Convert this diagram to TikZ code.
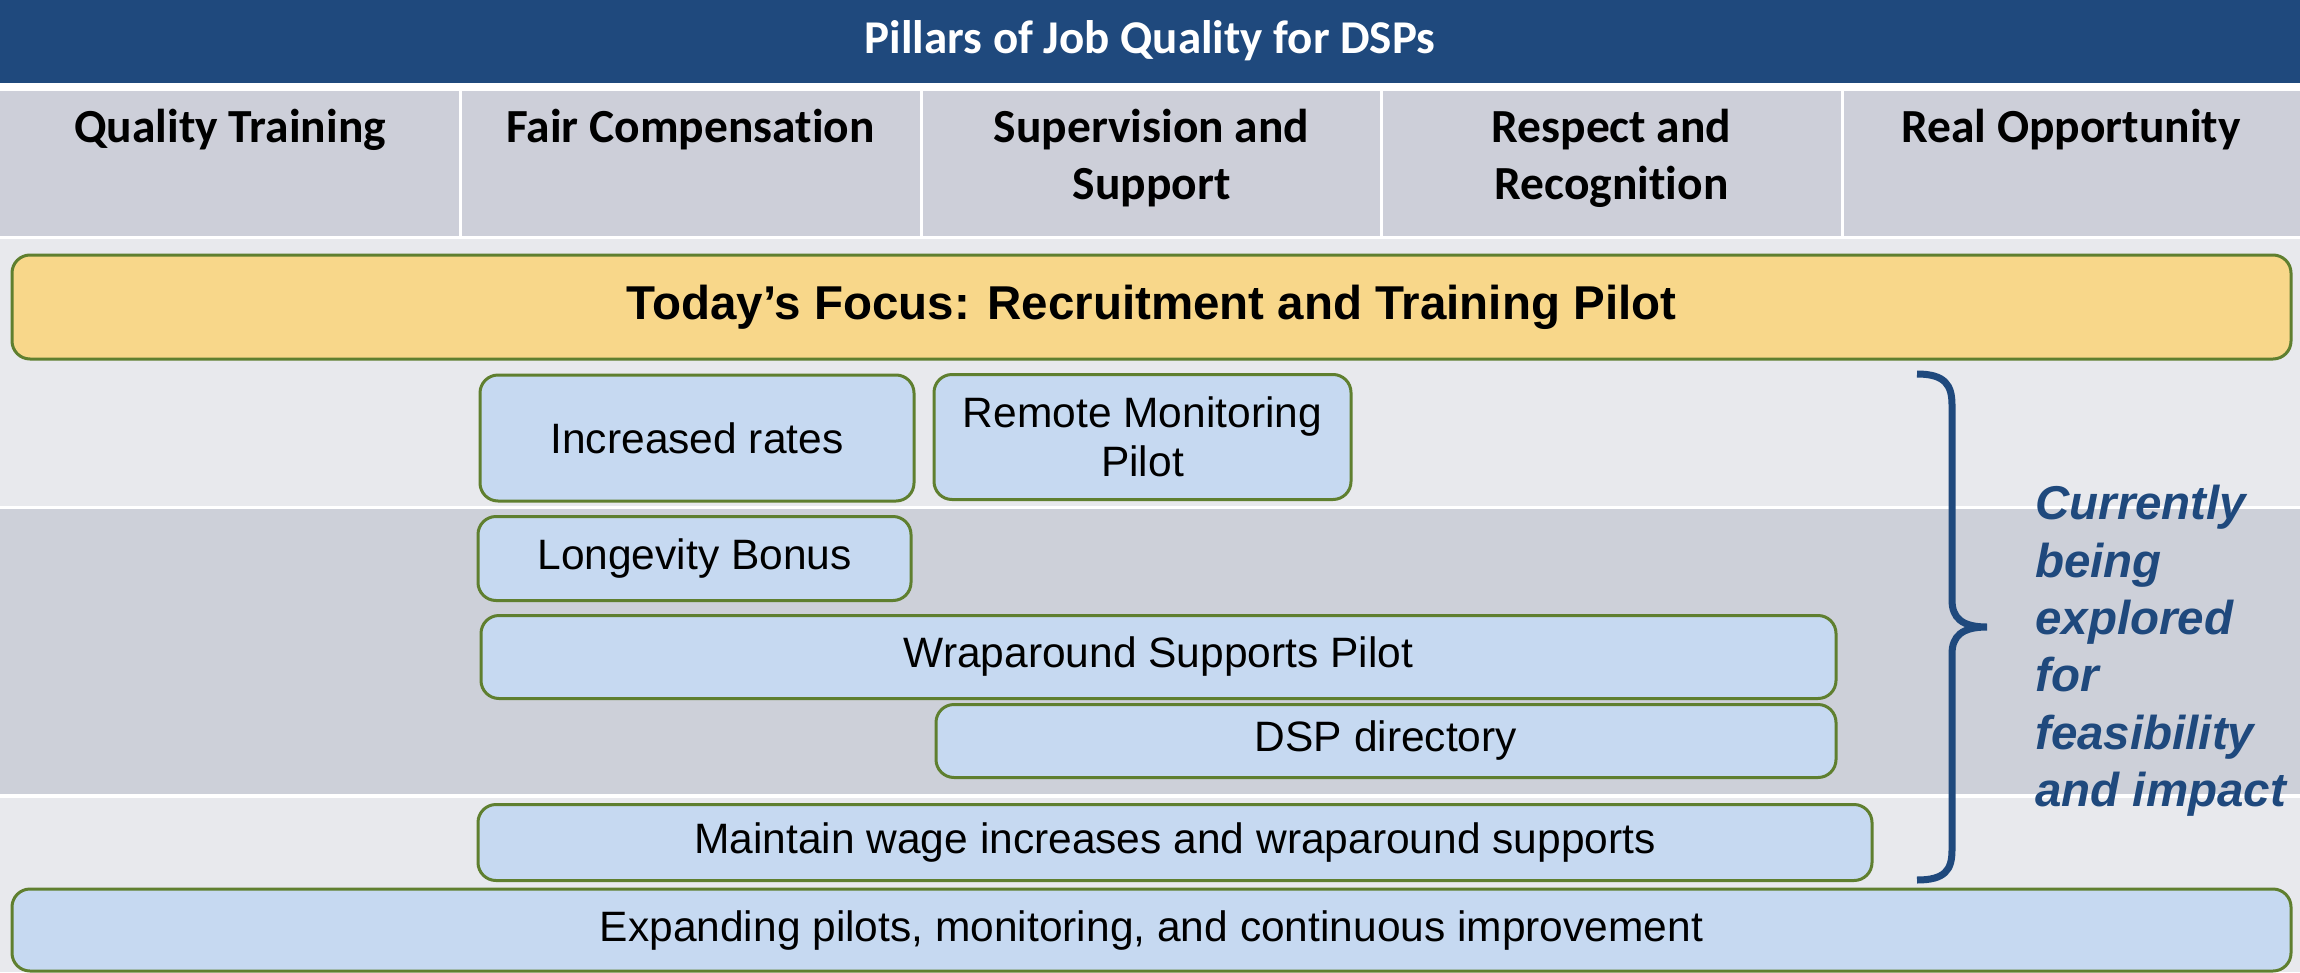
\documentclass[tikz,border=0pt]{standalone}
\usepackage{fontspec}
\setmainfont{Liberation Sans}
\newfontfamily\carlito[Ligatures=NoCommon]{Carlito}
\definecolor{hdrblue}{HTML}{1F497D}
\definecolor{colgray}{HTML}{CDCFD9}
\definecolor{bandlight}{HTML}{E8E9ED}
\definecolor{banddark}{HTML}{CDD0D9}
\definecolor{focusyellow}{HTML}{F8D78A}
\definecolor{boxblue}{HTML}{C6D9F1}
\definecolor{boxgreen}{HTML}{5F7F2F}
\begin{document}
\begin{tikzpicture}[x=1pt,y=-1pt,
  itembox/.style={draw=boxgreen, line width=3pt, fill=boxblue, rounded corners=18pt,
    inner sep=0pt, align=center, font=\fontsize{42.5}{49}\selectfont},
  colhead/.style={anchor=north, inner sep=0pt, align=center,
    font=\carlito\bfseries\fontsize{47.5}{57}\selectfont},
  bracestyle/.style={draw=hdrblue, line width=7pt}
]
\useasboundingbox (0,0) rectangle (2300,972);
% backgrounds
\fill[white] (0,0) rectangle (2300,972);
\fill[hdrblue] (0,0) rectangle (2300,83);
\fill[colgray] (0,91) rectangle (2300,236);
\foreach \xx in {460.5,921,1381.5,1842}{
  \fill[white] (\xx-1.5,91) rectangle (\xx+1.5,236);
}
\fill[bandlight] (0,239) rectangle (2300,506);
\fill[banddark] (0,509) rectangle (2300,794);
\fill[bandlight] (0,798) rectangle (2300,972);

% title
\node[text=white, inner sep=0pt, font=\carlito\bfseries\fontsize{47}{56}\selectfont] (title) at (1150,41) {Pillars of Job Quality for DSPs};

% column headers
\node[colhead] (c1) at (230,109) {Quality Training};
\node[colhead] (c2) at (690.5,109) {Fair Compensation};
\node[colhead] (c3) at (1151.5,109) {Supervision and\\Support};
\node[colhead] (c4) at (1611.5,109) {Respect and\\Recognition};
\node[colhead] (c5) at (2071,109) {Real Opportunity};

% focus
\node[draw=boxgreen, line width=3pt, fill=focusyellow, rounded corners=18pt, inner sep=0pt,
  minimum width=2279pt, minimum height=104pt,
  font=\bfseries\fontsize{47.5}{57}\selectfont] (focus) at (1151.5,307)
  {Today’s Focus: Recruitment and Training Pilot};

% item boxes
\node[itembox, minimum width=434pt, minimum height=126pt] (inc) at (697,438) {Increased rates};
\node[itembox, minimum width=417pt, minimum height=125pt] (remote) at (1142.5,437) {Remote Monitoring\\Pilot};
\node[itembox, minimum width=433pt, minimum height=84pt] (longev) at (694.5,558.5) {Longevity Bonus};
\node[itembox, minimum width=1355pt, minimum height=83pt] (wrap) at (1158.5,657) {Wraparound Supports Pilot};
\node[itembox, minimum width=900pt, minimum height=73pt] (dsp) at (1386,741) {DSP directory};
\node[itembox, minimum width=1394pt, minimum height=76pt] (maintain) at (1175,842.5) {Maintain wage increases and wraparound supports};
\node[itembox, minimum width=2279pt, minimum height=82pt] (expand) at (1151.5,930) {Expanding pilots, monitoring, and continuous improvement};

% brace
\coordinate (btop) at (1917,374);
\coordinate (bbot) at (1917,880);
\coordinate (btip) at (1987,627);
\draw[bracestyle] (btop) .. controls (1945,374) and (1952,385) .. (1952,405)
  -- (1952,600) .. controls (1952,618) and (1962,627) .. (btip)
  .. controls (1962,627) and (1952,636) .. (1952,654)
  -- (1952,850) .. controls (1952,870) and (1945,880) .. (bbot);

% note
\node[anchor=north west, inner sep=0pt, align=left, text=hdrblue,
  font=\bfseries\itshape\fontsize{47.5}{57.4}\selectfont] (note) at (2035,485)
  {Currently\\being\\explored\\for\\feasibility\\and impact};
\end{tikzpicture}
\end{document}
